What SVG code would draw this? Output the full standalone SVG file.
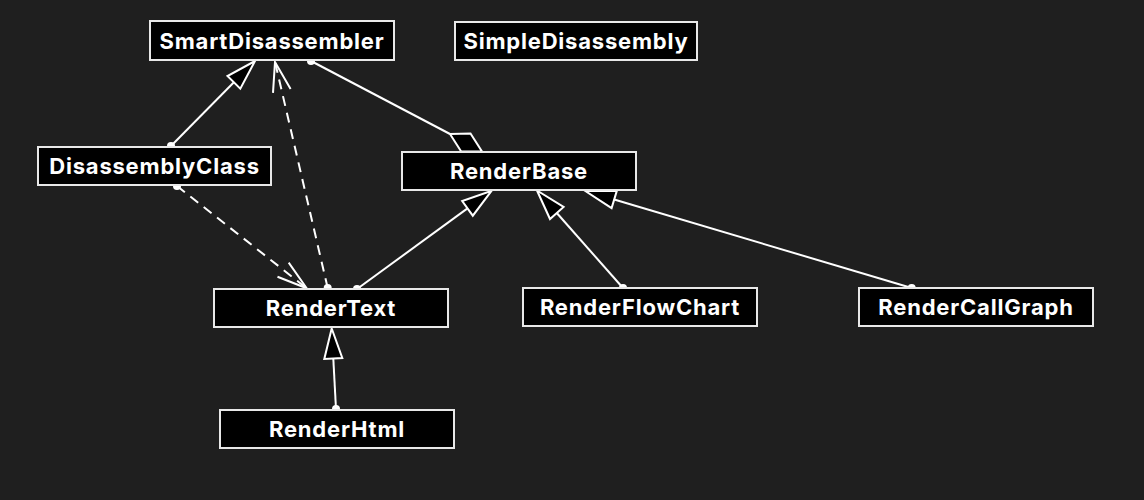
<svg xmlns="http://www.w3.org/2000/svg" width="1144" height="500" viewBox="0 0 1144 500">
<style>
.box{fill:#000;stroke:#e8e8e8;stroke-width:2}
.lbl{fill:#fff;font-family:Inter,"Liberation Sans",sans-serif;font-weight:700;font-size:22px;letter-spacing:0.8px;text-anchor:middle}
.ln{stroke:#fff;stroke-width:2;fill:none}
.dash{stroke:#fff;stroke-width:2;fill:none;stroke-dasharray:10 7}
.head{fill:#000;stroke:#fff;stroke-width:2;stroke-linejoin:miter}
.dot{fill:#fff}
</style>
<rect width="1144" height="500" fill="#1f1f1f"/>
<g id="connectors">
  <!-- DisassemblyClass -> SmartDisassembler -->
  <line class="ln" x1="171" y1="146" x2="233.9" y2="82.3"/>
  <circle class="dot" cx="171" cy="146" r="4"/>
  <polygon class="head" points="255,61 240.3,88.6 227.5,76"/>
  <!-- RenderText -> SmartDisassembler (dependency) -->
  <line class="dash" x1="327.7" y1="288" x2="275" y2="62"/>
  <circle class="dot" cx="327.7" cy="288" r="4"/>
  <polyline class="ln" points="273,92.9 275,62 290.6,88.9"/>
  <!-- DisassemblyClass -> RenderText (dependency) -->
  <line class="dash" x1="177" y1="186" x2="306.7" y2="288.3"/>
  <circle class="dot" cx="177" cy="186" r="4"/>
  <polyline class="ln" points="277.5,276.8 306.7,288.3 288.7,262.6"/>
  <!-- SmartDisassembler -> RenderBase (aggregation) -->
  <line class="ln" x1="311" y1="61" x2="450" y2="134"/>
  <circle class="dot" cx="311" cy="61" r="4"/>
  <polygon class="head" points="450,134 470.5,133.5 482,151.5 461.2,151.5"/>
  <!-- RenderText -> RenderBase -->
  <line class="ln" x1="357" y1="289" x2="467.5" y2="208.4"/>
  <circle class="dot" cx="357" cy="289" r="4"/>
  <polygon class="head" points="491.7,190.7 472.8,215.7 462.2,201.1"/>
  <!-- RenderFlowChart -> RenderBase -->
  <line class="ln" x1="623" y1="288" x2="556.8" y2="213"/>
  <circle class="dot" cx="623" cy="288" r="4"/>
  <polygon class="head" points="537,190.5 563.6,207 550,219"/>
  <!-- RenderCallGraph -> RenderBase -->
  <line class="ln" x1="911.7" y1="288" x2="614.2" y2="199.5"/>
  <circle class="dot" cx="911.7" cy="288" r="4"/>
  <polygon class="head" points="585.4,191 616.8,190.9 611.6,208.1"/>
  <!-- RenderHtml -> RenderText -->
  <line class="ln" x1="336" y1="409" x2="333.3" y2="358.5"/>
  <circle class="dot" cx="336" cy="409" r="4"/>
  <polygon class="head" points="331.7,328.5 342.3,358 324.3,359"/>
</g>
<g id="SmartDisassembler"><rect class="box" x="150" y="21" width="244" height="39"/><text class="lbl" x="272" y="49">SmartDisassembler</text></g>
<g id="SimpleDisassembly"><rect class="box" x="455" y="22" width="242" height="38"/><text class="lbl" x="576" y="49">SimpleDisassembly</text></g>
<g id="DisassemblyClass"><rect class="box" x="38" y="147" width="233" height="38"/><text class="lbl" x="154.5" y="174">DisassemblyClass</text></g>
<g id="RenderBase"><rect class="box" x="402" y="152" width="234" height="38"/><text class="lbl" x="519" y="179">RenderBase</text></g>
<g id="RenderText"><rect class="box" x="214" y="289" width="234" height="38"/><text class="lbl" x="331" y="316">RenderText</text></g>
<g id="RenderFlowChart"><rect class="box" x="523" y="288" width="234" height="38"/><text class="lbl" x="640" y="315">RenderFlowChart</text></g>
<g id="RenderCallGraph"><rect class="box" x="859" y="288" width="234" height="38"/><text class="lbl" x="976" y="315">RenderCallGraph</text></g>
<g id="RenderHtml"><rect class="box" x="220" y="410" width="234" height="38"/><text class="lbl" x="337" y="437">RenderHtml</text></g>
</svg>
